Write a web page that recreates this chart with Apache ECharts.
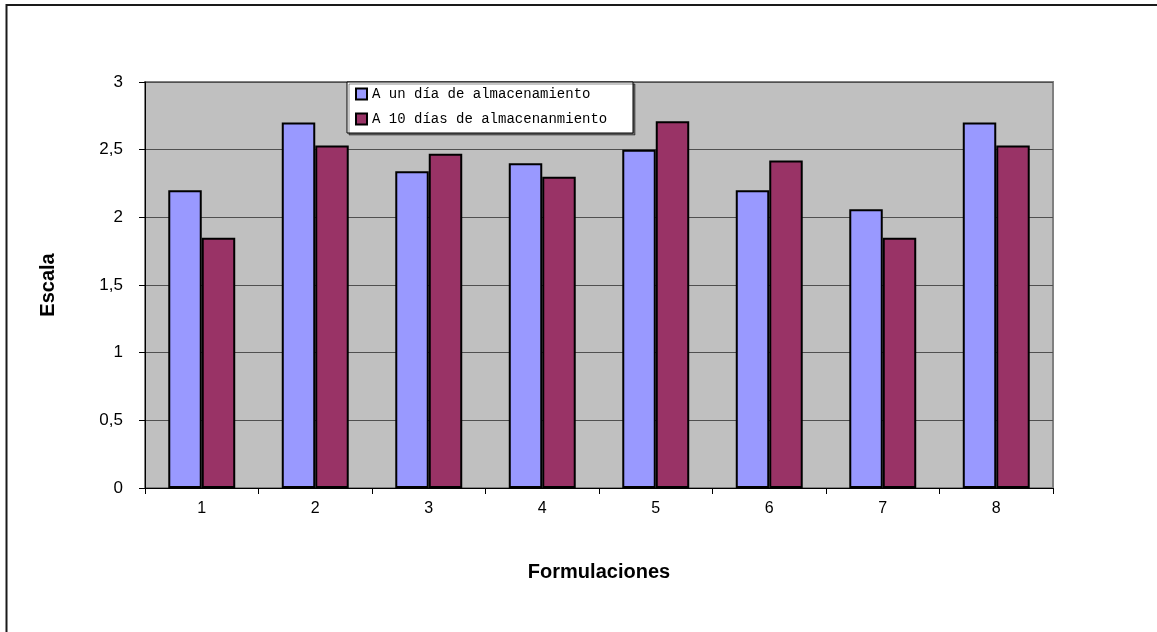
<!DOCTYPE html>
<html>
<head>
<meta charset="utf-8">
<script src="https://cdn.jsdelivr.net/npm/echarts@6/dist/echarts.min.js"></script>
<style>
  html, body { margin: 0; padding: 0; background: #fff; }
  #chart { width: 1157px; height: 632px; }
</style>
</head>
<body>
<div id="chart"></div>
<script>
// Formulations on the x axis, sensory scale scores per storage time
const categories = ['1', '2', '3', '4', '5', '6', '7', '8'];
const seriesNames = ['A un día de almacenamiento', 'A 10 días de almacenanmiento'];
const oneDay = [2.2, 2.7, 2.34, 2.4, 2.5, 2.2, 2.06, 2.7];
const tenDays = [1.85, 2.53, 2.47, 2.3, 2.71, 2.42, 1.85, 2.53];
const yTicks = [0, 0.5, 1, 1.5, 2, 2.5, 3];

const chart = echarts.init(document.getElementById('chart'));

const barStyle = (color) => ({ color: color, borderColor: '#000', borderWidth: 2 });

chart.setOption({
  animation: false,
  backgroundColor: '#fff',
  graphic: [
    {
      type: 'rect', z: -10,
      shape: { x: 6.5, y: 5, width: 1300, height: 800 },
      style: { fill: '#fff', stroke: '#1a1a1a', lineWidth: 2 }
    },
    {
      type: 'rect', z: 100,
      shape: { x: 347, y: 82, width: 286, height: 51 },
      style: { fill: '#fff', stroke: '#000', lineWidth: 1, shadowColor: 'rgba(0,0,0,0.45)', shadowOffsetX: 2, shadowOffsetY: 2, shadowBlur: 0 }
    }
  ],
  legend: {
    orient: 'vertical',
    left: 350,
    top: 82,
    z: 101,
    itemWidth: 11,
    itemHeight: 11,
    itemGap: 11,
    icon: 'rect',
    textStyle: { fontFamily: 'Liberation Mono', fontSize: 14, color: '#000', padding: [0, 0, 0, 0] },
    data: seriesNames
  },
  grid: {
    left: 145, right: 104, top: 82, bottom: 144,
    show: true,
    backgroundColor: '#c0c0c0',
    borderColor: '#808080',
    borderWidth: 2
  },
  xAxis: {
    type: 'category',
    data: categories,
    name: 'Formulaciones',
    nameLocation: 'middle',
    nameGap: 74,
    nameTextStyle: { fontFamily: 'Liberation Sans', fontWeight: 'bold', fontSize: 20, color: '#000' },
    axisLine: { lineStyle: { color: '#000', width: 1 } },
    axisTick: { show: true, length: 6, lineStyle: { color: '#000' } },
    axisLabel: { fontFamily: 'Liberation Sans', fontSize: 16, color: '#000', margin: 13 },
    splitLine: { show: false }
  },
  yAxis: {
    type: 'value',
    min: 0, max: 3, interval: 0.5,
    name: 'Escala',
    nameLocation: 'middle',
    nameGap: 87,
    nameRotate: 90,
    nameTextStyle: { fontFamily: 'Liberation Sans', fontWeight: 'bold', fontSize: 20, color: '#000' },
    axisLine: { show: true, lineStyle: { color: '#000', width: 1 } },
    axisTick: { show: true, length: 6, inside: false, lineStyle: { color: '#000' } },
    axisLabel: {
      fontFamily: 'Liberation Sans', fontSize: 17, color: '#000', margin: 22,
      formatter: (v) => yTicks.includes(v) ? String(v).replace('.', ',') : ''
    },
    splitLine: { show: true, lineStyle: { color: '#505050', width: 1 } }
  },
  series: [
    {
      name: seriesNames[0], type: 'bar', data: oneDay,
      barGap: '0%', barCategoryGap: '41%',
      itemStyle: barStyle('#9999ff')
    },
    {
      name: seriesNames[1], type: 'bar', data: tenDays,
      barGap: '0%', barCategoryGap: '41%',
      itemStyle: barStyle('#993366')
    }
  ]
});
</script>
</body>
</html>
